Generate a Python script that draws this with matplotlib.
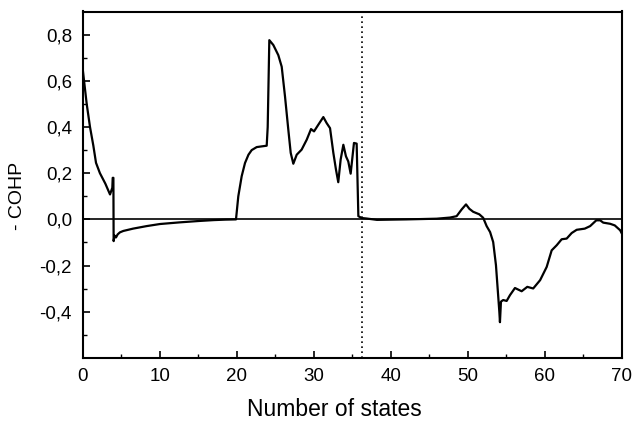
import matplotlib
matplotlib.use("Agg")
import matplotlib.pyplot as plt
from matplotlib.ticker import FixedLocator, FuncFormatter

x_states = [0.0, 0.48, 0.91, 1.34, 1.69, 2.2, 2.9, 3.51, 3.81, 3.86, 3.95, 3.98, 4.1, 4.29,
            4.5, 4.8, 5.24, 6.5, 8.27, 10.0, 12.5, 15.0, 17.0, 18.5, 19.88, 20.18, 20.62,
            21.05, 21.5, 21.92, 22.57, 23.2, 23.87, 24.0, 24.21, 24.73, 25.38, 25.82, 26.25,
            26.68, 26.99, 27.33, 27.77, 28.41, 29.07, 29.63, 30.02, 30.58, 31.23, 31.66,
            32.1, 32.53, 32.87, 33.17, 33.48, 33.83, 34.17, 34.47, 34.78, 35.21, 35.56,
            35.78, 36.2, 36.8, 38.2, 42.0, 45.96, 47.7, 48.55, 49.2, 49.77, 50.2, 50.7,
            51.5, 52.0, 52.45, 52.9, 53.3, 53.66, 53.88, 54.1, 54.18, 54.31, 54.6, 55.05,
            55.48, 56.13, 57.0, 57.73, 58.5, 59.4, 60.25, 60.9, 61.55, 62.2, 62.85, 63.5,
            64.15, 65.2, 65.9, 66.7, 67.2, 67.6, 68.5, 69.1, 69.8, 70.0]
cohp = [0.64, 0.50, 0.40, 0.32, 0.245, 0.20, 0.155, 0.108, 0.137, 0.18, 0.18, -0.094, -0.07, -0.078,
        -0.065, -0.056, -0.05, -0.04, -0.029, -0.02, -0.013, -0.007, -0.003, -0.001, 0.0, 0.10, 0.187,
        0.244, 0.28, 0.30, 0.313, 0.316, 0.319, 0.40, 0.776, 0.755, 0.711, 0.661, 0.532,
        0.388, 0.288, 0.241, 0.28, 0.302, 0.345, 0.391, 0.381, 0.41, 0.443, 0.417,
        0.395, 0.288, 0.216, 0.161, 0.259, 0.323, 0.273, 0.251, 0.198, 0.331, 0.328,
        0.014, 0.006, 0.004, -0.002, 0.0, 0.003, 0.008, 0.014, 0.043, 0.065, 0.046, 0.033,
        0.022, 0.007, -0.029, -0.055, -0.098, -0.198, -0.299, -0.40, -0.445, -0.356, -0.349, -0.353,
        -0.328, -0.297, -0.311, -0.292, -0.299, -0.263, -0.206, -0.134, -0.112, -0.086, -0.083, -0.059,
        -0.045, -0.040, -0.029, -0.004, -0.004, -0.014, -0.019, -0.026, -0.047, -0.06]

fermi_level = 36.2
y_ticks = [-0.4, -0.2, 0.0, 0.2, 0.4, 0.6, 0.8]
y_minor = [-0.5, -0.3, -0.1, 0.1, 0.3, 0.5, 0.7]
x_ticks = [0, 10, 20, 30, 40, 50, 60, 70]
x_minor = [5, 15, 25, 35, 45, 55, 65]

plt.rcParams['font.family'] = ['Liberation Sans', 'DejaVu Sans']

W, H = 636, 421
fig = plt.figure(figsize=(W / 100, H / 100), dpi=100)
ax = fig.add_axes([83 / W, 1 - 358 / H, (621.7 - 83) / W, (358 - 11.5) / H])

ax.plot(x_states, cohp, color='black', lw=1.6)
ax.axhline(0, color='black', lw=1.2)
ax.axvline(fermi_level, color='black', lw=1.2, ls=(0, (1, 2)))

ax.set_xlim(0, 70)
ax.set_ylim(-0.6, 0.9)
ax.xaxis.set_major_locator(FixedLocator(x_ticks))
ax.xaxis.set_minor_locator(FixedLocator(x_minor))
ax.yaxis.set_major_locator(FixedLocator(y_ticks))
ax.yaxis.set_minor_locator(FixedLocator(y_minor))
ax.yaxis.set_major_formatter(FuncFormatter(lambda v, p: f"{v:.1f}".replace('.', ',').replace('-0,0', '0,0')))
ax.xaxis.set_major_formatter(FuncFormatter(lambda v, p: f"{v:.0f}"))
ax.tick_params(which='major', direction='in', length=5, width=1.2, labelsize=13.5)
ax.tick_params(axis='y', which='major', pad=8)
ax.tick_params(axis='x', which='major', pad=7)
ax.tick_params(which='minor', direction='in', length=3, width=1.0)
for s in ax.spines.values():
    s.set_linewidth(1.5)

fig.text(334 / W, 1 - 416 / H, 'Number of states', fontsize=16.5, ha='center', va='baseline')
fig.text(18 / W, 1 - 196 / H, '- COHP', fontsize=14, ha='center', va='center', rotation=90)

fig.savefig('out.png', dpi=100)
